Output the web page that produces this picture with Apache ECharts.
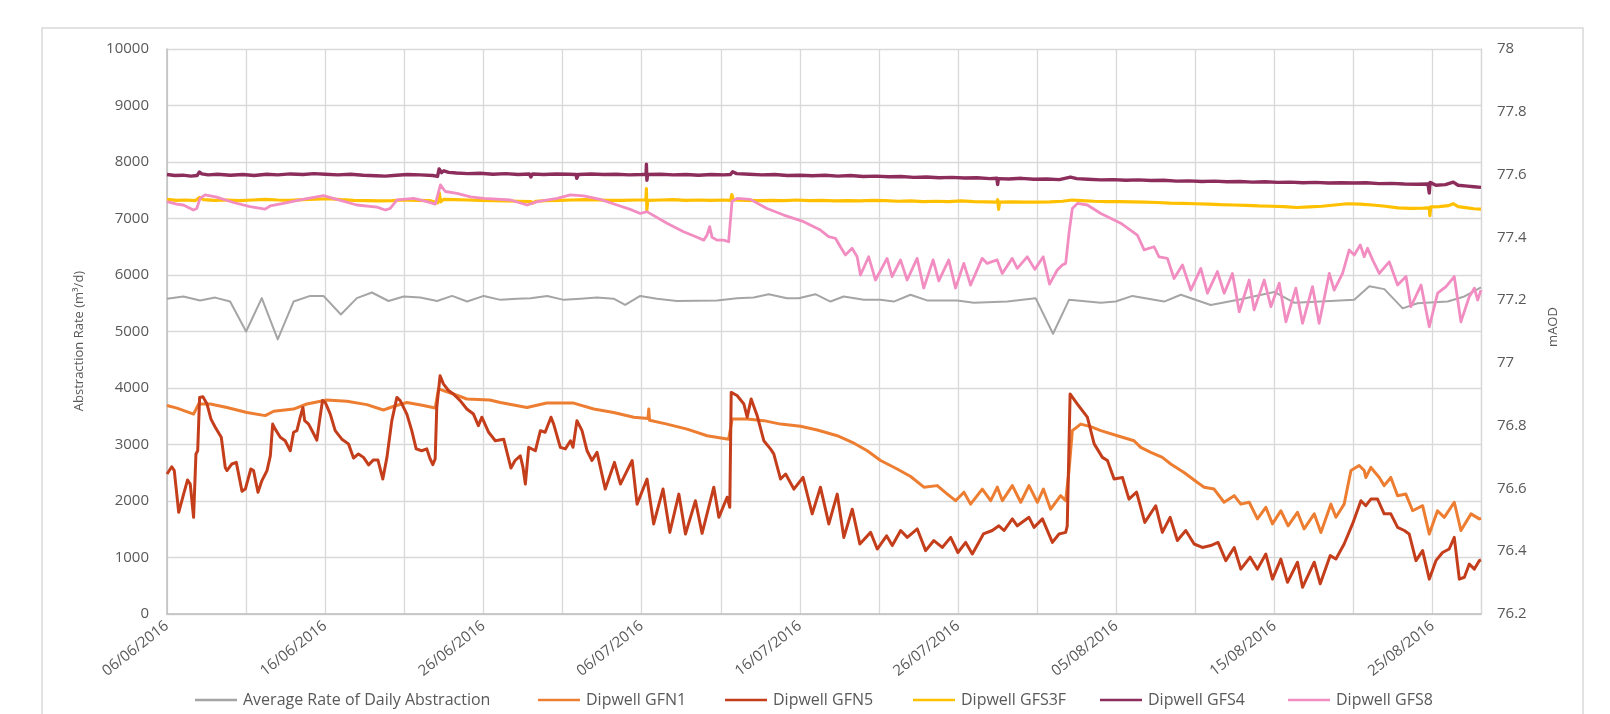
<!DOCTYPE html>
<html>
<head>
<meta charset="utf-8">
<script src="https://cdn.jsdelivr.net/npm/echarts@6/dist/echarts.min.js"></script>
<style>
html,body{margin:0;padding:0;background:#fff;}
#chart{width:1610px;height:714px;}
</style>
</head>
<body>
<div id="chart"></div>
<script>
// x values: days since 06/06/2016
const START = [2016, 5, 6];
const seriesNames = ['Average Rate of Daily Abstraction','Dipwell GFN1','Dipwell GFN5','Dipwell GFS3F','Dipwell GFS4','Dipwell GFS8'];

// Average Rate of Daily Abstraction (m3/d, left axis)
const avgRate = [[0,5580],[1.03,5620],[2.09,5550],[3.04,5600],[3.99,5530],[5.0,5000],[5.99,5590],[7.0,4860],[8.0,5530],[9.05,5630],[9.89,5630],[10.99,5300],[12.0,5590],[12.95,5690],[14.0,5540],[14.96,5620],[16.01,5600],[17.07,5540],[18.02,5630],[18.97,5530],[20.02,5630],[21.08,5560],[22.13,5580],[22.97,5590],[24.03,5630],[25.08,5560],[26.14,5580],[27.17,5600],[28.23,5580],[28.96,5470],[29.91,5630],[30.97,5580],[32.23,5540],[34.76,5550],[36.03,5590],[37.08,5600],[38.03,5660],[39.19,5590],[39.93,5590],[40.98,5660],[41.93,5530],[42.77,5620],[44.04,5560],[45.09,5560],[45.94,5530],[46.99,5650],[48.04,5550],[49.94,5550],[51.0,5510],[53.11,5530],[54.9,5590],[56.0,4960],[57.01,5560],[59.02,5510],[59.96,5530],[61.02,5630],[63.02,5530],[64.08,5650],[65.97,5470],[67.87,5570],[69.98,5700],[71.24,5510],[72.93,5530],[75.04,5560],[75.99,5800],[76.94,5750],[78.1,5410],[79.04,5500],[80.94,5530],[82.0,5620],[83.05,5780]];

// Dipwell levels (mAOD, right axis)
const gfn1 = [[0,76.864],[0.63,76.856],[1.68,76.837],[2.0,76.869],[2.74,76.869],[3.79,76.858],[5.05,76.842],[6.21,76.832],[6.74,76.846],[8.0,76.853],[8.84,76.869],[10.1,76.882],[11.37,76.878],[12.63,76.867],[13.68,76.850],[14.3,76.861],[15.16,76.874],[16.21,76.864],[16.95,76.856],[17.16,76.917],[18.1,76.901],[18.95,76.885],[20.4,76.882],[21.07,76.874],[22.75,76.858],[24.0,76.872],[25.7,76.872],[26.97,76.853],[28.23,76.842],[29.5,76.827],[30.4,76.823],[30.45,76.853],[30.5,76.817],[31.6,76.805],[32.87,76.789],[34.14,76.768],[35.5,76.757],[35.72,76.821],[36.67,76.821],[37.72,76.816],[38.78,76.805],[40.04,76.798],[41.1,76.786],[42.36,76.768],[43.31,76.747],[44.26,76.720],[45.1,76.689],[46.15,76.662],[47.0,76.638],[47.84,76.604],[48.68,76.609],[49.32,76.582],[49.84,76.561],[50.37,76.588],[50.79,76.550],[51.53,76.598],[52.06,76.561],[52.48,76.604],[52.8,76.561],[53.43,76.609],[53.96,76.556],[54.48,76.609],[55.01,76.556],[55.39,76.598],[55.85,76.534],[56.48,76.577],[56.8,76.561],[57.01,76.657],[57.22,76.784],[57.75,76.805],[58.38,76.797],[59.02,76.784],[60.07,76.768],[61.12,76.752],[61.54,76.731],[62.18,76.715],[62.91,76.699],[63.44,76.678],[64.28,76.651],[65.13,76.619],[65.55,76.604],[66.18,76.598],[66.81,76.556],[67.45,76.577],[67.87,76.550],[68.4,76.556],[68.92,76.503],[69.45,76.540],[69.87,76.487],[70.4,76.529],[70.86,76.481],[71.45,76.524],[71.87,76.471],[72.51,76.519],[72.93,76.460],[73.56,76.550],[73.88,76.508],[74.4,76.550],[74.83,76.657],[75.35,76.673],[75.67,76.657],[75.77,76.635],[76.09,76.667],[76.62,76.635],[76.93,76.609],[77.35,76.635],[77.78,76.577],[78.3,76.582],[78.73,76.529],[79.36,76.545],[79.78,76.455],[80.3,76.529],[80.73,76.508],[81.36,76.556],[81.78,76.466],[82.42,76.519],[82.94,76.503],[83.05,76.505]];

const gfn5 = [[0,76.646],[0.3,76.669],[0.46,76.657],[0.74,76.524],[1.05,76.582],[1.3,76.627],[1.47,76.614],[1.68,76.508],[1.83,76.710],[1.94,76.720],[2.06,76.890],[2.27,76.892],[2.53,76.869],[2.78,76.821],[3.05,76.795],[3.43,76.763],[3.68,76.667],[3.79,76.657],[4.1,76.678],[4.38,76.683],[4.74,76.591],[4.95,76.598],[5.3,76.662],[5.47,76.657],[5.75,76.588],[6.0,76.625],[6.32,76.657],[6.53,76.704],[6.68,76.805],[6.84,76.789],[7.16,76.763],[7.47,76.752],[7.79,76.720],[8.0,76.779],[8.21,76.784],[8.42,76.827],[8.59,76.858],[8.7,76.816],[8.95,76.805],[9.22,76.779],[9.47,76.754],[9.64,76.816],[9.83,76.880],[10.0,76.874],[10.32,76.837],[10.63,76.784],[11.05,76.757],[11.47,76.742],[11.79,76.697],[12.1,76.710],[12.42,76.699],[12.74,76.675],[13.05,76.691],[13.33,76.691],[13.64,76.630],[13.9,76.699],[14.21,76.816],[14.53,76.890],[14.74,76.880],[15.16,76.837],[15.47,76.784],[15.75,76.726],[16.1,76.720],[16.42,76.726],[16.63,76.694],[16.8,76.676],[16.95,76.694],[17.05,76.858],[17.26,76.959],[17.47,76.933],[17.79,76.912],[18.1,76.901],[18.53,76.880],[18.95,76.853],[19.37,76.837],[19.68,76.800],[19.9,76.827],[20.33,76.779],[20.75,76.752],[21.28,76.757],[21.74,76.665],[22.0,76.689],[22.33,76.704],[22.5,76.667],[22.65,76.614],[22.86,76.731],[23.28,76.720],[23.6,76.784],[23.9,76.779],[24.27,76.827],[24.44,76.805],[24.86,76.731],[25.18,76.726],[25.5,76.752],[25.66,76.731],[25.91,76.816],[26.23,76.784],[26.55,76.720],[26.86,76.689],[27.18,76.715],[27.7,76.598],[28.28,76.683],[28.66,76.614],[29.08,76.657],[29.4,76.689],[29.71,76.550],[30.34,76.630],[30.76,76.487],[31.35,76.598],[31.78,76.460],[32.35,76.582],[32.77,76.455],[33.4,76.561],[33.82,76.457],[34.56,76.604],[34.88,76.508],[35.4,76.572],[35.57,76.540],[35.66,76.906],[36.03,76.896],[36.46,76.869],[36.67,76.827],[36.92,76.885],[37.3,76.832],[37.72,76.752],[38.14,76.726],[38.35,76.710],[38.78,76.630],[39.1,76.646],[39.62,76.598],[40.2,76.635],[40.78,76.519],[41.3,76.604],[41.83,76.487],[42.36,76.582],[42.78,76.444],[43.31,76.534],[43.79,76.423],[44.47,76.460],[44.89,76.407],[45.48,76.449],[45.84,76.418],[46.37,76.466],[46.79,76.444],[47.42,76.471],[47.95,76.402],[48.47,76.434],[49.0,76.412],[49.53,76.444],[49.99,76.396],[50.48,76.428],[50.9,76.391],[51.6,76.455],[52.16,76.466],[52.58,76.481],[52.9,76.466],[53.43,76.503],[53.74,76.481],[54.48,76.508],[54.8,76.476],[55.33,76.503],[55.96,76.428],[56.38,76.455],[56.8,76.460],[56.9,76.481],[57.08,76.901],[57.54,76.869],[58.17,76.827],[58.6,76.742],[59.12,76.699],[59.44,76.689],[59.86,76.630],[60.39,76.635],[60.8,76.566],[61.28,76.588],[61.8,76.492],[62.49,76.545],[62.91,76.460],[63.4,76.508],[63.86,76.434],[64.39,76.466],[64.92,76.423],[65.44,76.412],[65.97,76.418],[66.43,76.428],[66.92,76.370],[67.45,76.412],[67.87,76.343],[68.46,76.381],[68.92,76.343],[69.45,76.391],[69.87,76.311],[70.4,76.375],[70.82,76.301],[71.45,76.365],[71.77,76.285],[72.51,76.365],[72.89,76.296],[73.52,76.386],[73.88,76.375],[74.4,76.423],[74.93,76.487],[75.46,76.561],[75.77,76.545],[76.09,76.566],[76.51,76.566],[76.93,76.519],[77.35,76.519],[77.78,76.476],[78.2,76.466],[78.51,76.455],[78.94,76.370],[79.36,76.402],[79.78,76.311],[80.2,76.370],[80.62,76.396],[81.04,76.407],[81.36,76.444],[81.68,76.311],[82.0,76.317],[82.31,76.359],[82.63,76.343],[82.94,76.370],[83.05,76.372]];

const gfs3f = [[0,77.521],[0.6,77.518],[1.2,77.519],[1.8,77.517],[2.05,77.527],[2.3,77.520],[3,77.518],[3.8,77.519],[4.6,77.517],[5.4,77.519],[6.2,77.521],[7,77.519],[7.8,77.518],[8.6,77.520],[9.4,77.522],[10.2,77.523],[11,77.520],[11.8,77.518],[12.6,77.517],[13.4,77.516],[14.2,77.517],[15,77.519],[15.8,77.518],[16.6,77.517],[17.1,77.510],[17.2,77.543],[17.3,77.513],[17.5,77.521],[18.2,77.520],[19,77.519],[19.8,77.518],[20.6,77.517],[21.4,77.516],[22.2,77.515],[23,77.514],[23.15,77.509],[23.3,77.515],[24,77.517],[24.8,77.518],[25.6,77.519],[26.4,77.520],[27.2,77.519],[28,77.518],[28.8,77.518],[29.6,77.519],[30.27,77.519],[30.3,77.555],[30.33,77.487],[30.38,77.518],[31.2,77.519],[32,77.520],[32.8,77.518],[33.6,77.519],[34.4,77.518],[35.2,77.519],[35.62,77.518],[35.7,77.536],[35.8,77.519],[36.6,77.518],[37.4,77.517],[38.2,77.518],[39,77.517],[39.8,77.519],[40.6,77.517],[41.4,77.518],[42.2,77.516],[43,77.517],[43.8,77.516],[44.6,77.518],[45.4,77.517],[46.2,77.515],[47,77.516],[47.8,77.514],[48.6,77.515],[49.4,77.514],[50.2,77.516],[51,77.514],[51.8,77.513],[52.45,77.512],[52.5,77.520],[52.56,77.489],[52.62,77.512],[53.4,77.513],[54.2,77.512],[55,77.512],[55.8,77.513],[56.6,77.515],[57.2,77.519],[57.8,77.517],[58.6,77.515],[59.4,77.514],[60.2,77.514],[61,77.513],[61.8,77.512],[62.6,77.511],[63.4,77.509],[64.2,77.508],[65,77.507],[65.8,77.506],[66.6,77.504],[67.4,77.503],[68.2,77.502],[69,77.500],[69.8,77.499],[70.6,77.498],[71.4,77.495],[72.2,77.497],[73,77.499],[73.8,77.503],[74.6,77.507],[75.4,77.506],[76.2,77.503],[77,77.499],[77.8,77.494],[78.6,77.492],[79.4,77.493],[79.78,77.494],[79.82,77.469],[79.87,77.497],[80.4,77.498],[81,77.501],[81.3,77.507],[81.6,77.498],[82.2,77.494],[82.6,77.491],[83.05,77.490]];

const gfs4 = [[0,77.600],[0.5,77.597],[1,77.598],[1.5,77.595],[1.9,77.597],[2.05,77.608],[2.2,77.602],[2.6,77.599],[3.2,77.601],[4,77.598],[4.8,77.600],[5.5,77.597],[6.3,77.601],[7,77.599],[7.8,77.602],[8.6,77.600],[9.3,77.603],[10,77.601],[10.8,77.599],[11.6,77.601],[12.4,77.598],[13.2,77.596],[13.8,77.595],[14.5,77.598],[15.2,77.600],[16,77.599],[16.8,77.597],[17.1,77.594],[17.2,77.618],[17.35,77.606],[17.5,77.612],[17.8,77.607],[18.3,77.605],[19,77.603],[19.8,77.604],[20.6,77.601],[21.4,77.603],[22.2,77.600],[22.9,77.602],[23.0,77.592],[23.1,77.602],[23.8,77.600],[24.6,77.602],[25.4,77.601],[25.85,77.600],[25.9,77.588],[26.0,77.600],[26.8,77.602],[27.6,77.600],[28.4,77.601],[29.2,77.599],[30.0,77.600],[30.28,77.601],[30.3,77.633],[30.33,77.582],[30.38,77.600],[31.2,77.601],[32,77.599],[32.8,77.600],[33.6,77.598],[34.4,77.600],[35.2,77.599],[35.6,77.600],[35.75,77.609],[36.0,77.603],[36.8,77.601],[37.6,77.599],[38.4,77.600],[39.2,77.597],[40,77.598],[40.8,77.596],[41.6,77.598],[42.4,77.595],[43.2,77.597],[44,77.594],[44.8,77.595],[45.6,77.593],[46.4,77.594],[47.2,77.591],[48,77.592],[48.8,77.590],[49.6,77.591],[50.4,77.589],[51.2,77.590],[52,77.587],[52.45,77.588],[52.5,77.568],[52.55,77.587],[53.2,77.586],[54,77.588],[54.8,77.585],[55.6,77.586],[56.4,77.584],[57.1,77.592],[57.5,77.587],[58.2,77.585],[59,77.583],[59.8,77.584],[60.6,77.582],[61.4,77.583],[62.2,77.581],[63,77.582],[63.8,77.579],[64.6,77.580],[65.4,77.578],[66.2,77.579],[67,77.577],[67.8,77.578],[68.6,77.576],[69.4,77.577],[70.2,77.575],[71,77.576],[71.8,77.574],[72.6,77.575],[73.4,77.573],[74.2,77.574],[75,77.573],[75.8,77.574],[76.6,77.571],[77.4,77.572],[78.2,77.570],[79,77.569],[79.7,77.570],[79.78,77.541],[79.83,77.575],[80.2,77.566],[80.8,77.568],[81.3,77.576],[81.6,77.566],[82.2,77.563],[82.6,77.561],[83.05,77.559]];

const gfs8 = [[0,77.514],[0.61,77.506],[1.03,77.503],[1.67,77.487],[1.88,77.492],[2.09,77.524],[2.41,77.535],[3.14,77.528],[4.2,77.511],[5.25,77.498],[6.2,77.490],[6.52,77.500],[7.36,77.508],[8.42,77.519],[9.89,77.533],[10.74,77.521],[12.0,77.503],[13.27,77.496],[13.8,77.487],[14.11,77.492],[14.54,77.519],[15.59,77.524],[16.43,77.514],[16.96,77.506],[17.07,77.500],[17.28,77.567],[17.59,77.546],[18.33,77.540],[19.18,77.529],[20.02,77.524],[21.71,77.519],[22.76,77.503],[23.4,77.514],[24.66,77.524],[25.49,77.535],[26.33,77.532],[27.38,77.521],[28.44,77.503],[29.28,77.489],[29.91,77.476],[30.33,77.482],[31.6,77.445],[32.65,77.418],[33.5,77.400],[33.92,77.391],[34.13,77.407],[34.3,77.434],[34.45,77.400],[34.76,77.391],[35.18,77.391],[35.5,77.386],[35.6,77.381],[35.71,77.514],[36.03,77.524],[36.87,77.521],[37.92,77.492],[38.98,77.471],[40.24,77.450],[41.3,77.423],[41.82,77.402],[42.25,77.397],[42.56,77.370],[42.88,77.344],[43.3,77.365],[43.62,77.338],[43.83,77.280],[44.35,77.338],[44.78,77.264],[45.51,77.333],[45.83,77.275],[46.36,77.328],[46.78,77.264],[47.41,77.333],[47.83,77.238],[48.42,77.328],[48.78,77.261],[49.41,77.328],[49.84,77.238],[50.36,77.317],[50.79,77.248],[51.52,77.333],[51.84,77.317],[52.47,77.328],[52.79,77.285],[53.42,77.333],[53.74,77.301],[54.37,77.338],[54.85,77.298],[55.38,77.338],[55.78,77.251],[56.27,77.296],[56.59,77.312],[56.8,77.317],[57.01,77.413],[57.22,77.492],[57.54,77.508],[58.17,77.503],[59.02,77.476],[60.28,77.445],[61.33,77.407],[61.76,77.360],[62.39,77.370],[62.7,77.338],[63.23,77.333],[63.65,77.269],[64.18,77.312],[64.71,77.232],[65.34,77.301],[65.76,77.222],[66.39,77.291],[66.82,77.222],[67.34,77.285],[67.77,77.163],[68.4,77.264],[68.71,77.169],[69.35,77.264],[69.77,77.179],[70.3,77.254],[70.72,77.131],[71.35,77.238],[71.77,77.126],[72.4,77.243],[72.82,77.126],[73.46,77.285],[73.77,77.232],[74.3,77.285],[74.72,77.360],[75.04,77.344],[75.42,77.376],[75.67,77.338],[75.88,77.365],[76.2,77.328],[76.62,77.285],[77.25,77.322],[77.78,77.248],[78.31,77.275],[78.62,77.179],[79.26,77.248],[79.78,77.115],[80.31,77.222],[80.84,77.243],[81.36,77.275],[81.78,77.131],[82.31,77.211],[82.63,77.238],[82.84,77.200],[83.05,77.232]];

const leftTicks = {min: 0, max: 10000, step: 1000};
const rightTicks = {min: 76.2, max: 78, step: 0.2};
const dayRange = {min: 0, max: 83.05, step: 5, labelEvery: 10};

const colors = ['#A5A5A5','#ED7D31','#C43E1C','#FFC000','#8C2D5C','#F28DC2'];
const widths = [2, 3, 3, 3.2, 3.4, 2.8];
const dataSets = [avgRate, gfn1, gfn5, gfs3f, gfs4, gfs8];
const axisIdx = [0, 1, 1, 1, 1, 1];
const legendLeft = [195, 538, 725, 913, 1100, 1288];

function fmtDay(v) {
  const dt = new Date(START[0], START[1], START[2] + Math.round(v));
  const p = n => (n < 10 ? '0' : '') + n;
  return p(dt.getDate()) + '/' + p(dt.getMonth() + 1) + '/' + dt.getFullYear();
}

const FONT = "'Open Sans', 'Liberation Sans', sans-serif";
const chart = echarts.init(document.getElementById('chart'), null, {renderer: 'canvas'});
chart.setOption({
  animation: false,
  backgroundColor: '#ffffff',
  grid: {left: 167, right: 129, top: 49, bottom: 100, containLabel: false},
  xAxis: {
    type: 'value', min: dayRange.min, max: dayRange.max, interval: dayRange.step,
    axisLine: {show: true, lineStyle: {color: '#BFBFBF', width: 1.5}},
    axisTick: {show: false},
    splitLine: {show: true, lineStyle: {color: '#D9D9D9', width: 1.3}},
    axisLabel: {
      rotate: 38, margin: 10, color: '#595959', fontSize: 15, fontFamily: FONT,
      showMaxLabel: false,
      formatter: v => (Math.abs(v % dayRange.labelEvery) < 1e-6 ? fmtDay(v) : '')
    }
  },
  yAxis: [
    {
      type: 'value', min: leftTicks.min, max: leftTicks.max, interval: leftTicks.step,
      axisLine: {show: true, lineStyle: {color: '#BFBFBF', width: 1.5}},
      axisTick: {show: false},
      splitLine: {show: true, lineStyle: {color: '#D9D9D9', width: 1.3}},
      axisLabel: {color: '#595959', fontSize: 15, fontFamily: FONT, margin: 18,
        formatter: v => String(Math.round(v))}
    },
    {
      type: 'value', min: rightTicks.min, max: rightTicks.max, interval: rightTicks.step,
      position: 'right',
      axisLine: {show: true, lineStyle: {color: '#D9D9D9', width: 1.3}},
      axisTick: {show: false},
      splitLine: {show: false},
      axisLabel: {color: '#595959', fontSize: 15, fontFamily: FONT, margin: 16,
        formatter: v => String(Math.round(v * 10) / 10)}
    }
  ],
  legend: seriesNames.map((name, i) => ({
    left: legendLeft[i], top: 692, icon: 'rect', itemWidth: 42, itemHeight: 2.5, padding: 0,
    textStyle: {color: '#595959', fontSize: 16, fontFamily: FONT, padding: [0, 0, 0, 1]},
    data: [name]
  })),
  graphic: [
    {type: 'rect', silent: true, z: -10, shape: {x: 42, y: 28, width: 1541, height: 720},
     style: {fill: 'none', stroke: '#D9D9D9', lineWidth: 1.5}},
    {type: 'text', silent: true, x: 79, y: 341, rotation: Math.PI / 2,
     style: {text: 'Abstraction Rate (m³/d)', fill: '#595959', font: "13px 'Open Sans', sans-serif", align: 'center', verticalAlign: 'middle'}},
    {type: 'text', silent: true, x: 1553, y: 327, rotation: Math.PI / 2,
     style: {text: 'mAOD', fill: '#595959', font: "13px 'Open Sans', sans-serif", align: 'center', verticalAlign: 'middle'}}
  ],
  series: seriesNames.map((name, i) => ({
    name: name, type: 'line', yAxisIndex: axisIdx[i], data: dataSets[i],
    showSymbol: false, symbol: 'none', smooth: false,
    itemStyle: {color: colors[i]},
    lineStyle: {color: colors[i], width: widths[i], join: 'round'}
  }))
});
</script>
</body>
</html>
